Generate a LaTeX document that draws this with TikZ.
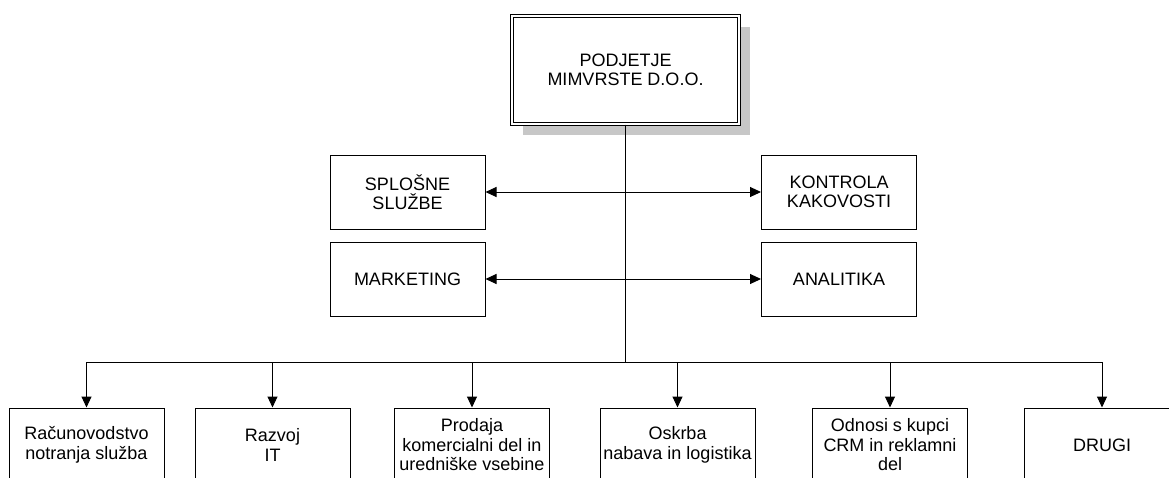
\documentclass[tikz,border=0pt]{standalone}
\usepackage{fontspec}
\setmainfont{Liberation Sans}
\usetikzlibrary{arrows.meta,shadows}

\begin{document}
\begin{tikzpicture}[x=1pt,y=-1pt,line width=1pt,
    every node/.style={font=\fontsize{18}{19.5}\selectfont,align=center,inner sep=0pt},
    unit/.style={draw,fill=white,minimum width=155pt,minimum height=74pt},
    head/.style={draw,fill=white,double,double distance=2.5pt,line width=1pt,
        minimum width=227pt,minimum height=108pt,
        drop shadow={shadow xshift=11pt,shadow yshift=-11pt,fill=black!22,opacity=1}},
    tip/.style={-{Triangle[length=11pt,width=10pt]}},
    both/.style={{Triangle[length=11pt,width=10pt]}-{Triangle[length=11pt,width=10pt]}}]
        \useasboundingbox (0,0) rectangle (1169,477);
        \clip (0,0) rectangle (1169,477); % bottom row is cut by the page edge
        \node[head] (firma) at (625.5,70) {PODJETJE\\MIMVRSTE D.O.O.};
        \node[unit] (splosne) at (407.5,192) {SPLOŠNE\\SLUŽBE};
        \node[unit] (marketing) at (407.5,279) {MARKETING};
        \node[unit] (kontrola) at (839,192) {KONTROLA\\KAKOVOSTI};
        \node[unit] (analitika) at (839,279) {ANALITIKA};
        \node[unit] (racun) at (86.5,445) {Računovodstvo\\notranja služba};
        \node[unit] (razvoj) at (272.5,445) {Razvoj\\IT};
        \node[unit] (prodaja) at (472,445) {Prodaja\\komercialni del in\\uredniške vsebine};
        \node[unit] (oskrba) at (677.5,445) {Oskrba\\nabava in logistika};
        \node[unit] (odnosi) at (890,445) {Odnosi s kupci\\CRM in reklamni\\del};
        \node[unit] (drugi) at (1102,445) {DRUGI};
        \coordinate (bus) at (625.5,362); % horizontal bus over the bottom row
        \draw (firma) -- (bus);
        \draw[both] (splosne) -- (kontrola);
        \draw[both] (marketing) -- (analitika);
        \draw (racun |- bus) -- (drugi |- bus);
        \foreach \u in {racun,razvoj,prodaja,oskrba,odnosi,drugi}
            \draw[tip] (\u |- bus) -- (\u);
    \end{tikzpicture}
\end{document}
